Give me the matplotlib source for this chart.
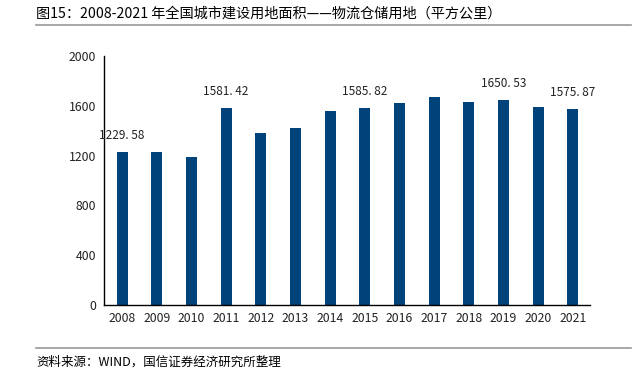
import matplotlib.pyplot as plt
from matplotlib.lines import Line2D

plt.rcParams['font.family'] = ['Noto Sans CJK SC', 'DejaVu Sans']

years = ['2008', '2009', '2010', '2011', '2012', '2013', '2014',
         '2015', '2016', '2017', '2018', '2019', '2020', '2021']
area = [1229.58, 1225, 1191, 1581.42, 1384, 1421, 1558,
        1585.82, 1622, 1670, 1633, 1650.53, 1590, 1575.87]
labeled = ['2008', '2011', '2015', '2019', '2021']

title = '图15：2008-2021 年全国城市建设用地面积——物流仓储用地（平方公里）'
source = '资料来源：WIND，国信证券经济研究所整理'

fig = plt.figure(figsize=(6.39, 3.71), dpi=100)
ax = fig.add_axes([0.163, 0.178, 0.760, 0.671])

x = range(len(years))
ax.bar(x, area, width=0.32, color='#00427A')

# only some bars carry a value label
for i, (yr, v) in enumerate(zip(years, area)):
    if yr in labeled:
        ax.annotate(f'{v:.2f}'.replace('.', '. '), (i, v), xytext=(0, 7),
                    textcoords='offset points', ha='center', va='bottom',
                    fontsize=8.5, color='#222222')

ax.set_xlim(-0.52, 13.49)
ax.set_ylim(0, 2000)
ax.set_yticks([0, 400, 800, 1200, 1600, 2000])
ax.set_xticks(list(x))
ax.set_xticklabels(years)
ax.tick_params(axis='both', length=0, labelsize=8.8, colors='#222222')
ax.tick_params(axis='x', pad=5)
ax.tick_params(axis='y', pad=6)
for s in ['top', 'right']:
    ax.spines[s].set_visible(False)
for s in ['left', 'bottom']:
    ax.spines[s].set_color('black')
    ax.spines[s].set_linewidth(1.0)

fig.text(36 / 639, 1 - 14 / 371, title, fontsize=10.2, va='center', ha='left')
fig.add_artist(Line2D([36 / 639, 631 / 639], [1 - 24.5 / 371] * 2,
                      color='#999999', lw=1.2, transform=fig.transFigure))
fig.add_artist(Line2D([36 / 639, 631 / 639], [1 - 347.5 / 371] * 2,
                      color='#999999', lw=1.2, transform=fig.transFigure))
fig.text(36 / 639, 1 - 362 / 371, source, fontsize=9, va='center', ha='left')

fig.savefig('out.png', dpi=100)
